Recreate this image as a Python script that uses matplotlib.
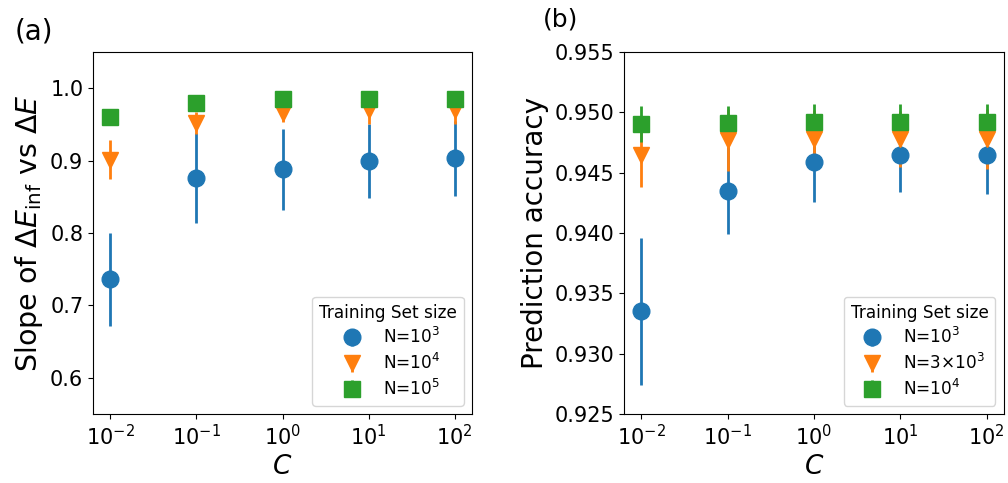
"""
Two-panel errorbar figure: slope of dE_inf vs dE (a) and prediction accuracy (b)
against regularisation strength C, for several training set sizes.
"""
import numpy as np
import matplotlib; matplotlib.use('Agg')
import matplotlib.pyplot as plt

C_vals = [1e-2, 1e-1, 1e0, 1e1, 1e2]

# --- panel (a): slope of dE_inf vs dE ---
labels_a = [r'N=$10^3$', r'N=$10^4$', r'N=$10^5$']
slope_n1e3 = [0.736, 0.876, 0.888, 0.899, 0.903]
slope_n1e3_err = [0.064, 0.062, 0.056, 0.051, 0.052]
slope_n1e4 = [0.901, 0.952, 0.966, 0.970, 0.970]
slope_n1e4_err = [0.027, 0.015, 0.013, 0.020, 0.020]
slope_n1e5 = [0.960, 0.980, 0.985, 0.985, 0.985]
slope_n1e5_err = [0.002, 0.002, 0.002, 0.002, 0.002]

# --- panel (b): prediction accuracy ---
labels_b = [r'N=$10^3$', r'N=$3{\times}10^3$', r'N=$10^4$']
acc_n1e3 = [0.9335, 0.9435, 0.9459, 0.9465, 0.9465]
acc_n1e3_err = [0.0061, 0.0036, 0.0033, 0.0031, 0.0033]
acc_n3e3 = [0.9465, 0.9477, 0.9478, 0.9478, 0.9478]
acc_n3e3_err = [0.0027, 0.0026, 0.0024, 0.0023, 0.0025]
acc_n1e4 = [0.9490, 0.9491, 0.9492, 0.9492, 0.9492]
acc_n1e4_err = [0.0015, 0.0014, 0.0015, 0.0015, 0.0015]

colors = ['#1f77b4', '#ff7f0e', '#2ca02c']
markers = ['o', 'v', 's']

fig = plt.figure(figsize=(10.08, 4.83), dpi=100)
ax1 = fig.add_axes([0.0923, 0.1429, 0.376, 0.7495])
ax2 = fig.add_axes([0.619, 0.1429, 0.377, 0.7495])


def draw(ax, ys, errs, labels):
    for y, e, lab, col, mk in zip(ys, errs, labels, colors, markers):
        ax.errorbar(C_vals, y, yerr=e, fmt=mk, color=col, ms=12, lw=2,
                    capsize=0, label=lab)
    ax.set_xscale('log')
    ax.set_xticks(C_vals)
    ax.set_xticks([], minor=True)
    ax.tick_params(labelsize=15)
    ax.set_xlabel(r'$C$', fontsize=19)
    ax.legend(loc='lower right', title='Training Set size', fontsize=12.2,
              title_fontsize=12.2, labelspacing=0.33)


draw(ax1, [slope_n1e3, slope_n1e4, slope_n1e5],
     [slope_n1e3_err, slope_n1e4_err, slope_n1e5_err], labels_a)
ax1.set_ylim(0.55, 1.05)
ax1.set_yticks([0.6, 0.7, 0.8, 0.9, 1.0])
ax1.set_ylabel(r'Slope of $\Delta E_{\rm inf}$ vs $\Delta E$', fontsize=20.5)

draw(ax2, [acc_n1e3, acc_n3e3, acc_n1e4],
     [acc_n1e3_err, acc_n3e3_err, acc_n1e4_err], labels_b)
ax2.set_ylim(0.925, 0.955)
ax2.set_yticks(np.arange(0.925, 0.9551, 0.005))
ax2.yaxis.set_major_formatter(plt.FormatStrFormatter('%.3f'))
ax2.set_ylabel('Prediction accuracy', fontsize=20)

fig.text(0.015, 0.934, '(a)', fontsize=20, va='center')
fig.text(0.539, 0.959, '(b)', fontsize=18, va='center')

fig.savefig('out.png', dpi=100)
